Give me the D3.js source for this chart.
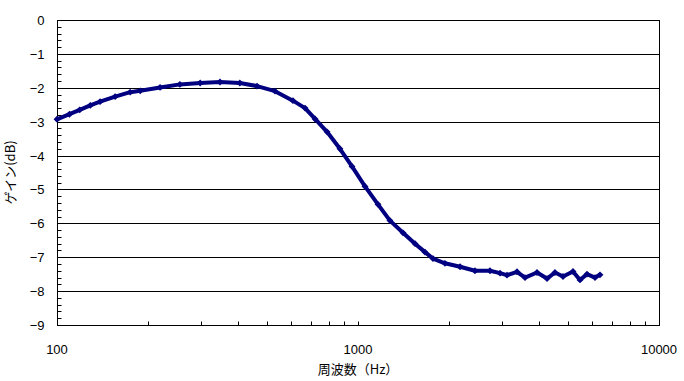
<!doctype html>
<html lang="ja">
<head>
<meta charset="utf-8">
<script src="https://cdn.jsdelivr.net/npm/d3@7"></script>
<style>
body { margin: 0; background: #fff; }
svg { display: block; }
text { font-family: Arial, "Liberation Sans", sans-serif; font-size: 13px; fill: #000; }
text.jp { font-family: "Noto Sans CJK JP", sans-serif; font-size: 13px; }
</style>
</head>
<body>
<svg width="684" height="381"></svg>
<script>
const freq = [100, 110, 119, 129, 139, 156, 175, 189, 220, 256, 299, 348, 405, 462, 530,
  608, 667, 720, 789, 871, 955, 1055, 1165, 1277, 1411, 1547, 1670, 1775, 1945, 2183,
  2447, 2745, 2964, 3126, 3375, 3588, 3933, 4246, 4512, 4798, 5180, 5464, 5765, 6130, 6368];
const gain = [-2.93, -2.78, -2.65, -2.52, -2.41, -2.26, -2.13, -2.09, -1.99, -1.90, -1.86, -1.83, -1.86, -1.95, -2.10,
  -2.38, -2.60, -2.92, -3.30, -3.80, -4.32, -4.91, -5.44, -5.92, -6.28, -6.60, -6.85, -7.04, -7.18, -7.28,
  -7.40, -7.40, -7.47, -7.53, -7.43, -7.60, -7.45, -7.63, -7.45, -7.57, -7.42, -7.67, -7.50, -7.60, -7.52];
const yTicks = [0, -1, -2, -3, -4, -5, -6, -7, -8, -9];
const xTicks = [100, 1000, 10000];

const svg = d3.select('svg');
const pLeft = 57, pRight = 659, pTop = 20, pBottom = 325;

const x = d3.scaleLog().domain([100, 10000]).range([pLeft, pRight]);
const y = d3.scaleLinear().domain([-9, 0]).range([pBottom, pTop]);

// horizontal grid
svg.append('g')
  .selectAll('line')
  .data(yTicks.filter(d => d > -9))
  .join('line')
  .attr('x1', pLeft).attr('x2', pRight)
  .attr('y1', d => Math.round(y(d)) + 0.5).attr('y2', d => Math.round(y(d)) + 0.5)
  .attr('stroke', '#000');

// right border
svg.append('line')
  .attr('x1', pRight + 0.5).attr('x2', pRight + 0.5)
  .attr('y1', pTop).attr('y2', pBottom)
  .attr('stroke', '#000');

// y axis with inner minor ticks
const yMinor = d3.range(-9, 0.001, 0.2);
const yAxis = svg.append('g').attr('transform', `translate(${pLeft + 0.5},0)`);
yAxis.append('line').attr('y1', pTop).attr('y2', pBottom + 0.5).attr('stroke', '#000');
yAxis.selectAll('line.t')
  .data(yMinor)
  .join('line')
  .attr('class', 't')
  .attr('x1', 0).attr('x2', 4)
  .attr('y1', d => Math.round(y(d)) + 0.5).attr('y2', d => Math.round(y(d)) + 0.5)
  .attr('stroke', '#000');
yAxis.selectAll('text')
  .data(yTicks)
  .join('text')
  .attr('x', -13)
  .attr('y', d => y(d) + 5)
  .attr('text-anchor', 'end')
  .text(d => d3.format('d')(d));

// x axis with log minor ticks
const xMinor = x.ticks().filter(d => d > 100 && d < 10000);
const xAxis = svg.append('g').attr('transform', `translate(0,${pBottom + 0.5})`);
xAxis.append('line').attr('x1', pLeft).attr('x2', pRight + 1).attr('stroke', '#000');
xAxis.selectAll('line.t')
  .data(xMinor)
  .join('line')
  .attr('class', 't')
  .attr('x1', d => Math.round(x(d)) + 0.5).attr('x2', d => Math.round(x(d)) + 0.5)
  .attr('y1', 0).attr('y2', -4)
  .attr('stroke', '#000');
xAxis.selectAll('text')
  .data(xTicks)
  .join('text')
  .attr('x', d => x(d))
  .attr('y', 28)
  .attr('text-anchor', 'middle')
  .text(d => d);

// series
const pts = freq.map((f, i) => [f, gain[i]]);
svg.append('path')
  .datum(pts)
  .attr('fill', 'none')
  .attr('stroke', '#000080')
  .attr('stroke-width', 4)
  .attr('stroke-linejoin', 'round')
  .attr('d', d3.line().x(d => x(d[0])).y(d => y(d[1])));

svg.append('g')
  .selectAll('path')
  .data(pts)
  .join('path')
  .attr('transform', d => `translate(${x(d[0])},${y(d[1])})`)
  .attr('d', d3.symbol(d3.symbolDiamond2, 30))
  .attr('fill', '#000080');

// labels
svg.append('text')
  .attr('class', 'jp')
  .attr('transform', `translate(15,${(pTop + pBottom) / 2}) rotate(-90)`)
  .attr('text-anchor', 'middle')
  .text('ゲイン(dB)');

svg.append('text')
  .attr('class', 'jp')
  .attr('x', x(1000))
  .attr('y', 374)
  .attr('text-anchor', 'middle')
  .text('周波数（Hz）');
</script>
</body>
</html>
